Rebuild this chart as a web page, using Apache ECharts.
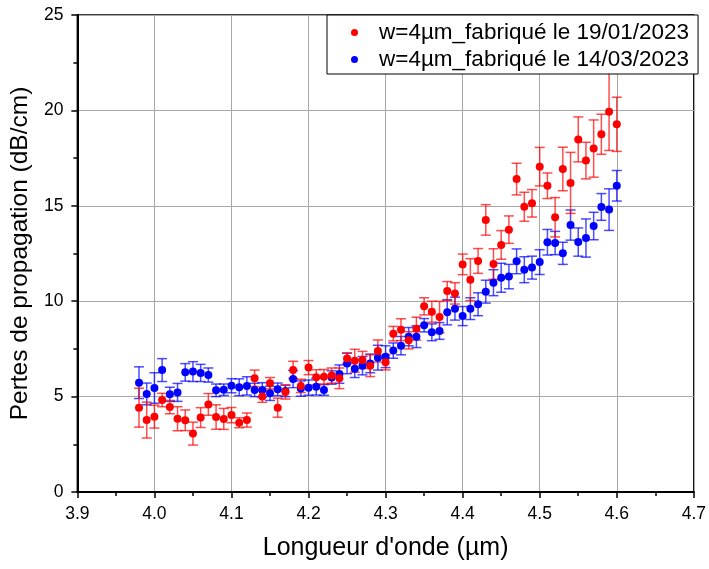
<!DOCTYPE html>
<html>
<head>
<meta charset="utf-8">
<script src="https://cdn.jsdelivr.net/npm/echarts@6/dist/echarts.min.js"></script>
<style>
	html, body { margin: 0; padding: 0; background: #fff; }
	#chart { width: 709px; height: 569px; }
</style>
</head>
<body>
<div id="chart"></div>
<script>
// longueurs d'onde (µm)
var wavelengths = [3.98, 3.99, 4.00, 4.01, 4.02, 4.03, 4.04, 4.05, 4.06, 4.07, 4.08, 4.09, 4.10,
	4.11, 4.12, 4.13, 4.14, 4.15, 4.16, 4.17, 4.18, 4.19, 4.20, 4.21, 4.22, 4.23, 4.24, 4.25,
	4.26, 4.27, 4.28, 4.29, 4.30, 4.31, 4.32, 4.33, 4.34, 4.35, 4.36, 4.37, 4.38, 4.39, 4.40,
	4.41, 4.42, 4.43, 4.44, 4.45, 4.46, 4.47, 4.48, 4.49, 4.50, 4.51, 4.52, 4.53, 4.54, 4.55,
	4.56, 4.57, 4.58, 4.59, 4.60];

/* 19/01/2023 */
var lossJan = [4.42, 3.77, 3.95, 4.82, 4.45, 3.84, 3.76, 3.06, 3.90, 4.59, 3.93, 3.83, 4.03,
	3.63, 3.77, 5.96, 5.00, 5.70, 4.42, 5.24, 6.40, 5.56, 6.52, 6.01, 6.04, 6.10, 5.96, 7.00,
	6.88, 6.92, 6.62, 7.39, 6.80, 8.30, 8.51, 7.95, 8.56, 9.73, 9.45, 9.17, 10.53, 10.41, 11.93,
	11.13, 12.11, 14.26, 11.95, 12.95, 13.75, 16.40, 14.95, 15.13, 17.05, 16.05, 14.40, 16.93, 16.20, 18.48,
	17.37, 18.00, 18.75, 19.93, 19.27];
var errJan = [1.02, 0.94, 0.60, 0.35, 0.35, 0.63, 0.54, 0.60, 0.52, 0.57, 0.64, 0.55, 0.40,
	0.26, 0.37, 0.43, 0.30, 0.30, 0.50, 0.37, 0.45, 0.35, 0.37, 0.40, 0.38, 0.40, 0.54, 0.28,
	0.60, 0.45, 0.57, 0.58, 0.40, 0.38, 0.57, 0.45, 0.60, 0.45, 0.55, 0.82, 0.50, 0.56, 0.54,
	1.10, 0.65, 0.80, 0.80, 0.75, 0.72, 0.83, 0.76, 0.72, 1.01, 0.67, 1.03, 1.14, 1.60, 1.18,
	0.96, 1.50, 1.05, 2.03, 1.42];

/* 14/03/2023 */
var lossMar = [5.73, 5.14, 5.45, 6.39, 5.12, 5.22, 6.27, 6.31, 6.24, 6.13, 5.33, 5.36, 5.57,
	5.49, 5.56, 5.35, 5.35, 5.17, 5.38, 5.30, 5.92, 5.42, 5.47, 5.52, 5.35, 6.00, 6.18, 6.74,
	6.46, 6.62, 6.74, 7.04, 7.09, 7.41, 7.67, 8.14, 8.14, 8.74, 8.37, 8.44, 9.42, 9.61, 9.22,
	9.61, 9.84, 10.50, 10.97, 11.23, 11.29, 12.09, 11.65, 11.76, 12.05, 13.09, 13.05, 12.51, 13.99, 13.10,
	13.31, 13.94, 14.94, 14.80, 16.05];
var errMar = [0.83, 0.57, 0.80, 0.60, 0.37, 0.47, 0.46, 0.52, 0.45, 0.37, 0.33, 0.30, 0.37,
	0.44, 0.48, 0.35, 0.38, 0.37, 0.33, 0.30, 0.45, 0.40, 0.40, 0.44, 0.28, 0.35, 0.48, 0.54,
	0.46, 0.48, 0.49, 0.65, 0.57, 0.40, 0.48, 0.48, 0.57, 0.35, 0.44, 0.44, 0.66, 0.60, 0.50,
	0.57, 0.60, 0.60, 0.68, 0.76, 0.64, 0.65, 0.68, 0.60, 0.65, 0.67, 0.61, 0.58, 0.79, 0.74,
	1.00, 0.72, 0.70, 1.09, 0.80];

var labelJan = "w=4µm_fabriqué le 19/01/2023";
var labelMar = "w=4µm_fabriqué le 14/03/2023";

function points(ys) {
	return wavelengths.map(function(x, i) { return [x, ys[i]]; });
}
function bars(ys, es) {
	return wavelengths.map(function(x, i) { return [x, ys[i], es[i]]; });
}
// barre d'erreur verticale avec chapeaux
function errorBar(color) {
	return function(params, api) {
		var x = api.value(0), y = api.value(1), e = api.value(2);
		var hi = api.coord([x, y + e]);
		var lo = api.coord([x, y - e]);
		var w = 5;
		var st = { stroke: color, lineWidth: 1.5 };
		return {
			type: 'group',
			children: [
				{ type: 'line', shape: { x1: hi[0], y1: hi[1], x2: lo[0], y2: lo[1] }, style: st },
				{ type: 'line', shape: { x1: hi[0] - w, y1: hi[1], x2: hi[0] + w, y2: hi[1] }, style: st },
				{ type: 'line', shape: { x1: lo[0] - w, y1: lo[1], x2: lo[0] + w, y2: lo[1] }, style: st }
			]
		};
	};
}

var font = "'Liberation Sans', Arial, sans-serif";
var chart = echarts.init(document.getElementById('chart'));
var option = {
	animation: false,
	backgroundColor: '#fff',
	grid: {
		left: 77, right: 12, top: 15, bottom: 77,
		show: true, borderColor: '#000', borderWidth: 1.5
	},
	legend: {
		orient: 'vertical',
		left: 327, top: 15,
		padding: [6, 9, 3, 24],
		itemGap: 4,
		itemWidth: 7, itemHeight: 7,
		icon: 'circle',
		backgroundColor: '#fff',
		borderColor: '#000', borderWidth: 1,
		textStyle: { fontFamily: font, fontSize: 22.5, color: '#000', padding: [0, 0, 0, 16] },
		data: [labelJan, labelMar]
	},
	xAxis: {
		type: 'value',
		min: 3.9, max: 4.7, interval: 0.1,
		name: "Longueur d'onde (µm)",
		nameLocation: 'middle', nameGap: 44,
		nameTextStyle: { fontFamily: font, fontSize: 25, color: '#000' },
		axisLine: { lineStyle: { color: '#000', width: 2 } },
		axisTick: { length: 6, lineStyle: { color: '#000', width: 1.5 } },
		minorTick: { show: true, splitNumber: 2, length: 4, lineStyle: { color: '#000', width: 1.5 } },
		axisLabel: { fontFamily: font, fontSize: 17.5, color: '#000', margin: 13,
			formatter: function(v) { return v.toFixed(1); } },
		splitLine: { show: true, lineStyle: { color: '#a8a8a8', width: 1 } }
	},
	yAxis: {
		type: 'value',
		min: 0, max: 25, interval: 5,
		name: 'Pertes de propagation (dB/cm)',
		nameLocation: 'middle', nameGap: 40,
		nameTextStyle: { fontFamily: font, fontSize: 24.5, color: '#000' },
		axisLine: { show: true, lineStyle: { color: '#000', width: 2 } },
		axisTick: { show: true, length: 6, lineStyle: { color: '#000', width: 1.5 } },
		minorTick: { show: true, splitNumber: 2, length: 4, lineStyle: { color: '#000', width: 1.5 } },
		axisLabel: { fontFamily: font, fontSize: 17.5, color: '#000', margin: 14 },
		splitLine: { show: true, lineStyle: { color: '#a8a8a8', width: 1 } }
	},
	series: [
		{
			type: 'custom', name: labelJan + ' err',
			renderItem: errorBar('rgba(255,0,0,0.7)'),
			data: bars(lossJan, errJan), z: 3, silent: true
		},
		{
			type: 'custom', name: labelMar + ' err',
			renderItem: errorBar('rgba(0,0,255,0.7)'),
			data: bars(lossMar, errMar), z: 2, silent: true
		},
		{
			type: 'scatter', name: labelJan,
			symbol: 'circle', symbolSize: 8,
			itemStyle: { color: '#ff0000', opacity: 1 },
			data: points(lossJan), z: 5
		},
		{
			type: 'scatter', name: labelMar,
			symbol: 'circle', symbolSize: 8,
			itemStyle: { color: '#0000ff', opacity: 1 },
			data: points(lossMar), z: 4
		}
	]
};
chart.setOption(option);
</script>
</body>
</html>
